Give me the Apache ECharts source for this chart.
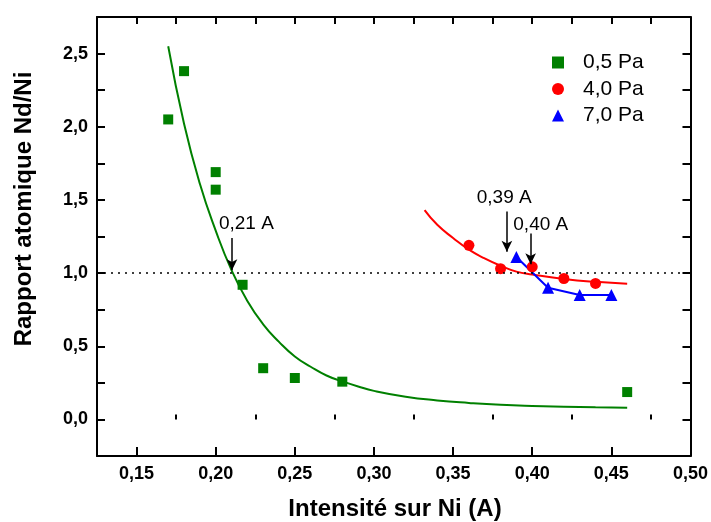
<!DOCTYPE html>
<html>
<head>
<meta charset="utf-8">
<script src="https://cdn.jsdelivr.net/npm/echarts@6/dist/echarts.min.js"></script>
<style>html,body{margin:0;padding:0;background:#fff}#c{width:711px;height:522px}</style>
</head>
<body>
<div id="c"></div>
<script>
// ---- data ----
const xTicks = [0.15, 0.20, 0.25, 0.30, 0.35, 0.40, 0.45, 0.50];
const xMinorTicks = [0.175, 0.225, 0.275, 0.325, 0.375, 0.425, 0.475];
const yTicks = [0.0, 0.5, 1.0, 1.5, 2.0, 2.5];
const yAllTicks = [0.0, 0.25, 0.5, 0.75, 1.0, 1.25, 1.5, 1.75, 2.0, 2.25, 2.5];

const seriesNames = ['0,5 Pa', '4,0 Pa', '7,0 Pa'];

const greenX = [0.17, 0.18, 0.20, 0.20, 0.217, 0.23, 0.25, 0.28, 0.46];
const greenY = [2.05, 2.38, 1.69, 1.57, 0.92, 0.35, 0.283, 0.258, 0.187];

const redX = [0.36, 0.38, 0.40, 0.42, 0.44];
const redY = [1.19, 1.03, 1.043, 0.963, 0.929];

const blueX = [0.39, 0.41, 0.43, 0.45];
const blueY = [1.11, 0.90, 0.85, 0.85];

// fitted curves
const greenFitX = [0.17, 0.18, 0.19, 0.20, 0.21, 0.22, 0.23, 0.24, 0.25, 0.26, 0.27, 0.28, 0.29, 0.30, 0.32, 0.34, 0.36, 0.38, 0.40, 0.42, 0.44, 0.46];
const greenFitY = [2.55, 2.02, 1.61, 1.29, 1.02, 0.81, 0.65, 0.53, 0.43, 0.36, 0.30, 0.26, 0.225, 0.195, 0.155, 0.13, 0.113, 0.10, 0.092, 0.087, 0.083, 0.08];

const redFitX = [0.332, 0.34, 0.35, 0.36, 0.37, 0.38, 0.39, 0.40, 0.42, 0.44, 0.46];
const redFitY = [1.43, 1.33, 1.24, 1.16, 1.10, 1.05, 1.01, 0.99, 0.96, 0.94, 0.927];

// annotations: arrow x, arrow top, arrow tip; label text and position
const arrowX = [0.2103, 0.384, 0.399];
const arrowTop = [1.24, 1.42, 1.27];
const arrowTip = [1.02, 1.146, 1.06];
const annText = ['0,21 A', '0,39 A', '0,40 A'];
const annX = [0.2194, 0.3823, 0.4054];
const annY = [1.336, 1.512, 1.331];

const refLineY = 1.0;

// ---- chart ----
const zip = (a, b) => a.map((v, i) => [v, b[i]]);
const fmtX = v => v.toFixed(2).replace('.', ',');
const fmtY = v => v.toFixed(1).replace('.', ',');

const FONT = '"Liberation Sans", Arial, sans-serif';
const X_MIN = 0.125, X_MAX = 0.5, Y_MIN = -0.25, Y_MAX = 2.75;

const axisLine = { show: true, onZero: false, lineStyle: { color: '#000', width: 2 } };

const chart = echarts.init(document.getElementById('c'), null, { renderer: 'canvas' });
chart.setOption({
  animation: false,
  backgroundColor: '#fff',
  grid: { left: 97, right: 19, top: 17, bottom: 66, containLabel: false },
  legend: {
    selectedMode: false,
    orient: 'vertical',
    left: 547, top: 47,
    itemWidth: 12, itemHeight: 12, itemGap: 5.5,
    textStyle: { fontFamily: FONT, fontSize: 21, color: '#000', lineHeight: 21, padding: [0, 0, 0, 14] },
    data: [
      { name: seriesNames[0], icon: 'rect', itemStyle: { color: '#008000' } },
      { name: seriesNames[1], icon: 'circle', itemStyle: { color: '#ff0000' } },
      { name: seriesNames[2], icon: 'triangle', itemStyle: { color: '#0000ff' } }
    ]
  },
  xAxis: [
    {
      type: 'value', min: X_MIN, max: X_MAX, position: 'bottom',
      axisLine: axisLine, splitLine: { show: false },
      axisTick: { show: true, inside: true, length: 9, customValues: xTicks, lineStyle: { color: '#000', width: 2 } },
      axisLabel: { customValues: xTicks, formatter: fmtX, margin: 9, fontFamily: FONT, fontSize: 18, fontWeight: 'bold', color: '#000' }
    },
    {
      type: 'value', min: X_MIN, max: X_MAX, position: 'bottom',
      axisLine: { show: false }, splitLine: { show: false },
      axisTick: { show: true, inside: true, length: 5, customValues: xMinorTicks, lineStyle: { color: '#000', width: 2 } },
      axisLabel: { show: false }
    },
    {
      type: 'value', min: X_MIN, max: X_MAX, position: 'top',
      axisLine: axisLine, splitLine: { show: false },
      axisTick: { show: true, inside: true, length: 7, customValues: xTicks.concat(xMinorTicks), lineStyle: { color: '#000', width: 2 } },
      axisLabel: { show: false }
    }
  ],
  yAxis: [
    {
      type: 'value', min: Y_MIN, max: Y_MAX, position: 'left',
      axisLine: axisLine, splitLine: { show: false },
      axisTick: { show: true, inside: true, length: 8, customValues: yAllTicks, lineStyle: { color: '#000', width: 2 } },
      axisLabel: { customValues: yTicks, formatter: fmtY, margin: 9, fontFamily: FONT, fontSize: 18, fontWeight: 'bold', color: '#000' }
    },
    {
      type: 'value', min: Y_MIN, max: Y_MAX, position: 'right',
      axisLine: axisLine, splitLine: { show: false },
      axisTick: { show: true, inside: true, length: 8, customValues: yAllTicks, lineStyle: { color: '#000', width: 2 } },
      axisLabel: { show: false }
    }
  ],
  graphic: [
    {
      type: 'text', x: 24, y: 209, rotation: Math.PI / 2,
      style: { text: 'Rapport atomique Nd/Ni', fontFamily: FONT, fontSize: 24, fontWeight: 'bold', fill: '#000', align: 'center', verticalAlign: 'middle' }
    },
    {
      type: 'text', x: 395, y: 509,
      style: { text: 'Intensité sur Ni (A)', fontFamily: FONT, fontSize: 24, fontWeight: 'bold', fill: '#000', align: 'center', verticalAlign: 'middle' }
    }
  ],
  series: [
    {
      name: 'fit05', type: 'line', data: zip(greenFitX, greenFitY), smooth: 0.5,
      symbol: 'none', lineStyle: { color: '#008000', width: 2 }, silent: true, z: 2
    },
    {
      name: 'fit40', type: 'line', data: zip(redFitX, redFitY), smooth: 0.5,
      symbol: 'none', lineStyle: { color: '#ff0000', width: 2 }, silent: true, z: 2,
      markLine: {
        silent: true, symbol: ['none', 'none'], label: { show: false },
        lineStyle: { color: '#000', width: 1.5, type: [2, 5] },
        data: [{ yAxis: refLineY }]
      }
    },
    {
      name: 'annotations', type: 'line', data: [], silent: true, z: 5,
      markLine: {
        silent: true, symbol: ['none', 'arrow'], symbolSize: [8, 11], label: { show: false },
        lineStyle: { color: '#000', width: 1.5, type: 'solid' },
        data: arrowX.map((x, i) => [{ coord: [x, arrowTop[i]] }, { coord: [x, arrowTip[i]] }])
      },
      markPoint: {
        silent: true, symbol: 'circle', symbolSize: 0,
        label: { show: true, position: 'inside', formatter: '{b}', fontFamily: FONT, fontSize: 19, color: '#000' },
        data: annText.map((t, i) => ({ name: t, coord: [annX[i], annY[i]] }))
      }
    },
    {
      name: seriesNames[0], type: 'scatter', data: zip(greenX, greenY),
      symbol: 'rect', symbolSize: 10, itemStyle: { color: '#008000', opacity: 1 }, z: 4
    },
    {
      name: seriesNames[1], type: 'scatter', data: zip(redX, redY),
      symbol: 'circle', symbolSize: 11, itemStyle: { color: '#ff0000', opacity: 1 }, z: 4
    },
    {
      name: seriesNames[2], type: 'line', data: zip(blueX, blueY),
      symbol: 'triangle', symbolSize: 12, showAllSymbol: true,
      lineStyle: { color: '#0000ff', width: 2 }, itemStyle: { color: '#0000ff', opacity: 1 }, z: 4
    }
  ]
});
</script>
</body>
</html>
